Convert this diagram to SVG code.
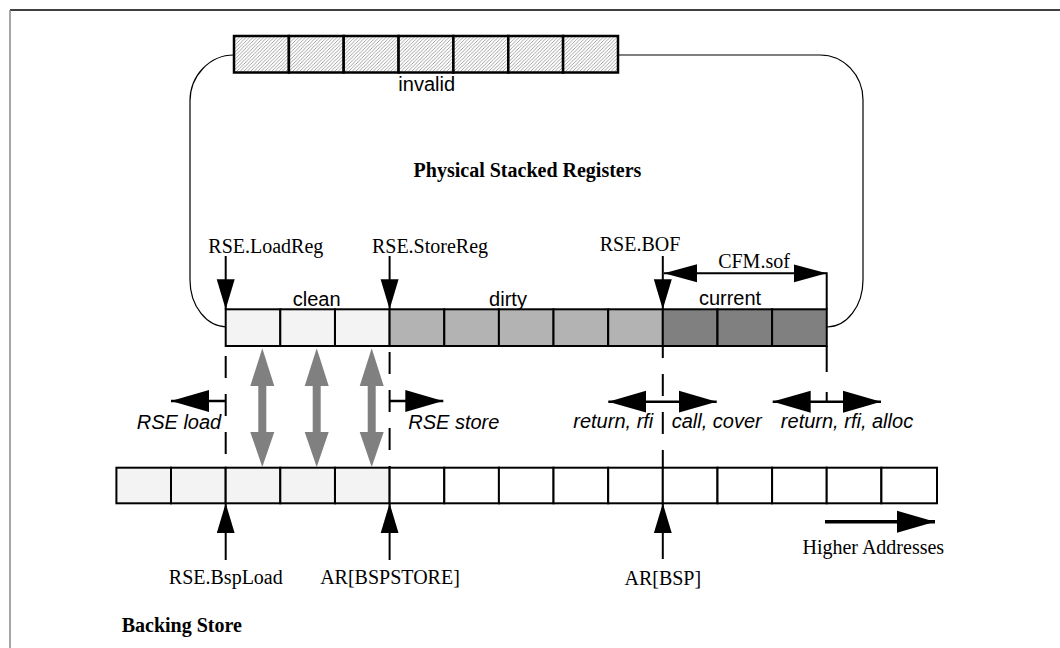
<svg xmlns="http://www.w3.org/2000/svg" width="1060" height="648" viewBox="0 0 1060 648">
<style>
.sans{font-family:"Liberation Sans",Arial,sans-serif;font-size:20px;fill:#000}
.ital{font-family:"Liberation Sans",Arial,sans-serif;font-size:20px;font-style:italic;fill:#000}
.serif{font-family:"Liberation Serif","Times New Roman",serif;font-size:20px;fill:#000}
.bold{font-family:"Liberation Serif","Times New Roman",serif;font-size:20px;font-weight:bold;fill:#000}
.cell{stroke:#000;stroke-width:2}
.inv{fill:url(#hatch);stroke:#000;stroke-width:2.5}
.clean{fill:#f3f3f3}
.dirty{fill:#b3b3b3}
.cur{fill:#808080}
.empty{fill:#fff}
.ptr{stroke:#000;stroke-width:2;fill:none;marker-end:url(#ah)}
.dash{stroke:#000;stroke-width:2;fill:none;stroke-dasharray:22 16}
.dbl{stroke:#000;stroke-width:2.5;fill:none;marker-start:url(#ahL);marker-end:url(#ahL)}
.gray{fill:#808080;stroke:none}
</style>
<defs>
<pattern id="hatch" patternUnits="userSpaceOnUse" width="3.5" height="3.5">
<rect width="3.5" height="3.5" fill="#fff"/>
<path d="M-1,1 L1,-1 M0,3.5 L3.5,0 M2.5,4.5 L4.5,2.5" stroke="#666" stroke-width="0.6"/>
</pattern>
<marker id="ah" markerUnits="userSpaceOnUse" markerWidth="30" markerHeight="20" viewBox="0 0 30 20" refX="30" refY="10" orient="auto-start-reverse">
<path d="M0,1 L30,10 L0,19 Z" fill="#000"/>
</marker>
<marker id="ahS" markerUnits="userSpaceOnUse" markerWidth="33" markerHeight="20" viewBox="0 0 33 20" refX="33" refY="10" orient="auto-start-reverse">
<path d="M0,1 L33,10 L0,19 Z" fill="#000"/>
</marker>
<marker id="ahL" markerUnits="userSpaceOnUse" markerWidth="38" markerHeight="24" viewBox="0 0 38 24" refX="38" refY="12" orient="auto-start-reverse">
<path d="M0,1 L38,12 L0,23 Z" fill="#000"/>
</marker>
</defs>
<rect width="1060" height="648" fill="#fff"/>
<g id="frame">
<line x1="10" y1="10" x2="1060" y2="10" stroke="#000" stroke-width="1.5"/>
<line x1="10" y1="10" x2="10" y2="648" stroke="#888" stroke-width="1.5"/>
</g>
<g id="loop">
<path d="M227,327 A37,47 0 0 1 190,280 L190,101 A44,46 0 0 1 234,55 L820,55 A43,45 0 0 1 863,100 L863,280 A36,47 0 0 1 827,327" fill="none" stroke="#000" stroke-width="1.2"/>
</g>
<g id="invalid-registers">
<rect class="inv" x="234" y="36" width="54.9" height="36.5"/>
<rect class="inv" x="288.9" y="36" width="54.8" height="36.5"/>
<rect class="inv" x="343.7" y="36" width="54.9" height="36.5"/>
<rect class="inv" x="398.6" y="36" width="54.8" height="36.5"/>
<rect class="inv" x="453.4" y="36" width="54.9" height="36.5"/>
<rect class="inv" x="508.3" y="36" width="54.8" height="36.5"/>
<rect class="inv" x="563.1" y="36" width="54.9" height="36.5"/>
<text class="sans" x="426.7" y="90.5" text-anchor="middle">invalid</text>
</g>
<g id="physical-label">
<text class="bold" x="527.5" y="176.7" text-anchor="middle">Physical Stacked Registers</text>
</g>
<g id="physical-registers">
<rect class="cell clean" x="225.7" y="309.3" width="54.64" height="36.7"/>
<rect class="cell clean" x="280.3" y="309.3" width="54.64" height="36.7"/>
<rect class="cell clean" x="335.0" y="309.3" width="54.64" height="36.7"/>
<rect class="cell dirty" x="389.6" y="309.3" width="54.64" height="36.7"/>
<rect class="cell dirty" x="444.3" y="309.3" width="54.64" height="36.7"/>
<rect class="cell dirty" x="498.9" y="309.3" width="54.64" height="36.7"/>
<rect class="cell dirty" x="553.5" y="309.3" width="54.64" height="36.7"/>
<rect class="cell dirty" x="608.2" y="309.3" width="54.64" height="36.7"/>
<rect class="cell cur" x="662.8" y="309.3" width="54.64" height="36.7"/>
<rect class="cell cur" x="717.5" y="309.3" width="54.64" height="36.7"/>
<rect class="cell cur" x="772.1" y="309.3" width="54.64" height="36.7"/>
<text class="sans" x="316.7" y="306" text-anchor="middle">clean</text>
<text class="sans" x="508" y="306" text-anchor="middle">dirty</text>
<text class="sans" x="730" y="305" text-anchor="middle">current</text>
</g>
<g id="backing-store">
<rect class="cell clean" x="116.4" y="467.7" width="54.64" height="35.6"/>
<rect class="cell clean" x="171.0" y="467.7" width="54.64" height="35.6"/>
<rect class="cell clean" x="225.7" y="467.7" width="54.64" height="35.6"/>
<rect class="cell clean" x="280.3" y="467.7" width="54.64" height="35.6"/>
<rect class="cell clean" x="335.0" y="467.7" width="54.64" height="35.6"/>
<rect class="cell empty" x="389.6" y="467.7" width="54.64" height="35.6"/>
<rect class="cell empty" x="444.3" y="467.7" width="54.64" height="35.6"/>
<rect class="cell empty" x="498.9" y="467.7" width="54.64" height="35.6"/>
<rect class="cell empty" x="553.5" y="467.7" width="54.64" height="35.6"/>
<rect class="cell empty" x="608.2" y="467.7" width="54.64" height="35.6"/>
<rect class="cell empty" x="662.8" y="467.7" width="54.64" height="35.6"/>
<rect class="cell empty" x="717.5" y="467.7" width="54.64" height="35.6"/>
<rect class="cell empty" x="772.1" y="467.7" width="54.64" height="35.6"/>
<rect class="cell empty" x="826.7" y="467.7" width="54.64" height="35.6"/>
<rect class="cell empty" x="881.4" y="467.7" width="55.6" height="35.6"/>
<text class="bold" x="121.7" y="631.7">Backing Store</text>
</g>
<g id="pointer-labels">
<text class="serif" x="265.8" y="252.7" text-anchor="middle">RSE.LoadReg</text>
<text class="serif" x="430" y="252.7" text-anchor="middle">RSE.StoreReg</text>
<text class="serif" x="640" y="251" text-anchor="middle">RSE.BOF</text>
<text class="serif" x="754" y="268.3" text-anchor="middle">CFM.sof</text>
<text class="serif" x="225.8" y="584" text-anchor="middle">RSE.BspLoad</text>
<text class="serif" x="390" y="584" text-anchor="middle">AR[BSPSTORE]</text>
<text class="serif" x="662.8" y="585" text-anchor="middle">AR[BSP]</text>
<text class="serif" x="873.3" y="554" text-anchor="middle">Higher Addresses</text>
</g>
<g id="action-labels">
<text class="ital" x="179" y="429" text-anchor="middle">RSE load</text>
<text class="ital" x="453.8" y="429" text-anchor="middle">RSE store</text>
<text class="ital" x="613.3" y="428" text-anchor="middle">return, rfi</text>
<text class="ital" x="716.7" y="428" text-anchor="middle">call, cover</text>
<text class="ital" x="847" y="428" text-anchor="middle">return, rfi, alloc</text>
</g>
<g id="connectors">
<line class="ptr" x1="225.7" y1="256" x2="225.7" y2="309.3"/>
<line class="ptr" x1="389.6" y1="256" x2="389.6" y2="309.3"/>
<line class="ptr" x1="662.8" y1="256" x2="662.8" y2="309.3"/>
<line x1="664" y1="273.3" x2="826.7" y2="273.3" stroke="#000" stroke-width="2" marker-start="url(#ahS)" marker-end="url(#ahS)"/>
<line x1="826.7" y1="272.3" x2="826.7" y2="309.3" stroke="#000" stroke-width="2"/>
<line class="dash" x1="225.7" y1="346" x2="225.7" y2="467.7" stroke-dashoffset="-10"/>
<line class="dash" x1="389.6" y1="346" x2="389.6" y2="467.7" stroke-dashoffset="-6"/>
<line class="dash" x1="662.8" y1="346" x2="662.8" y2="467.7" stroke-dashoffset="10"/>
<line x1="826.7" y1="346" x2="826.7" y2="402" stroke="#000" stroke-width="2" stroke-dasharray="26 20"/>
<line x1="225.7" y1="401" x2="171" y2="401" stroke="#000" stroke-width="2.5" marker-end="url(#ahL)"/>
<line x1="389.6" y1="401" x2="443.3" y2="401" stroke="#000" stroke-width="2.5" marker-end="url(#ahL)"/>
<line class="dbl" x1="608.3" y1="401.7" x2="716.7" y2="401.7"/>
<line class="dbl" x1="772.7" y1="401.7" x2="881" y2="401.7"/>
<polygon class="gray" points="262.3,348.3 274.3,386 266.3,386 266.3,432 274.3,432 262.3,467 250.3,432 258.3,432 258.3,386 250.3,386"/>
<polygon class="gray" points="316.7,348.3 328.7,386 320.7,386 320.7,432 328.7,432 316.7,467 304.7,432 312.7,432 312.7,386 304.7,386"/>
<polygon class="gray" points="371.7,348.3 383.7,386 375.7,386 375.7,432 383.7,432 371.7,467 359.7,432 367.7,432 367.7,386 359.7,386"/>
<line class="ptr" x1="225.7" y1="560" x2="225.7" y2="503.3"/>
<line class="ptr" x1="389.6" y1="560" x2="389.6" y2="503.3"/>
<line class="ptr" x1="662.8" y1="559" x2="662.8" y2="503.3"/>
<line x1="825" y1="521.7" x2="935" y2="521.7" stroke="#000" stroke-width="3.5" marker-end="url(#ahL)"/>
</g>
</svg>
